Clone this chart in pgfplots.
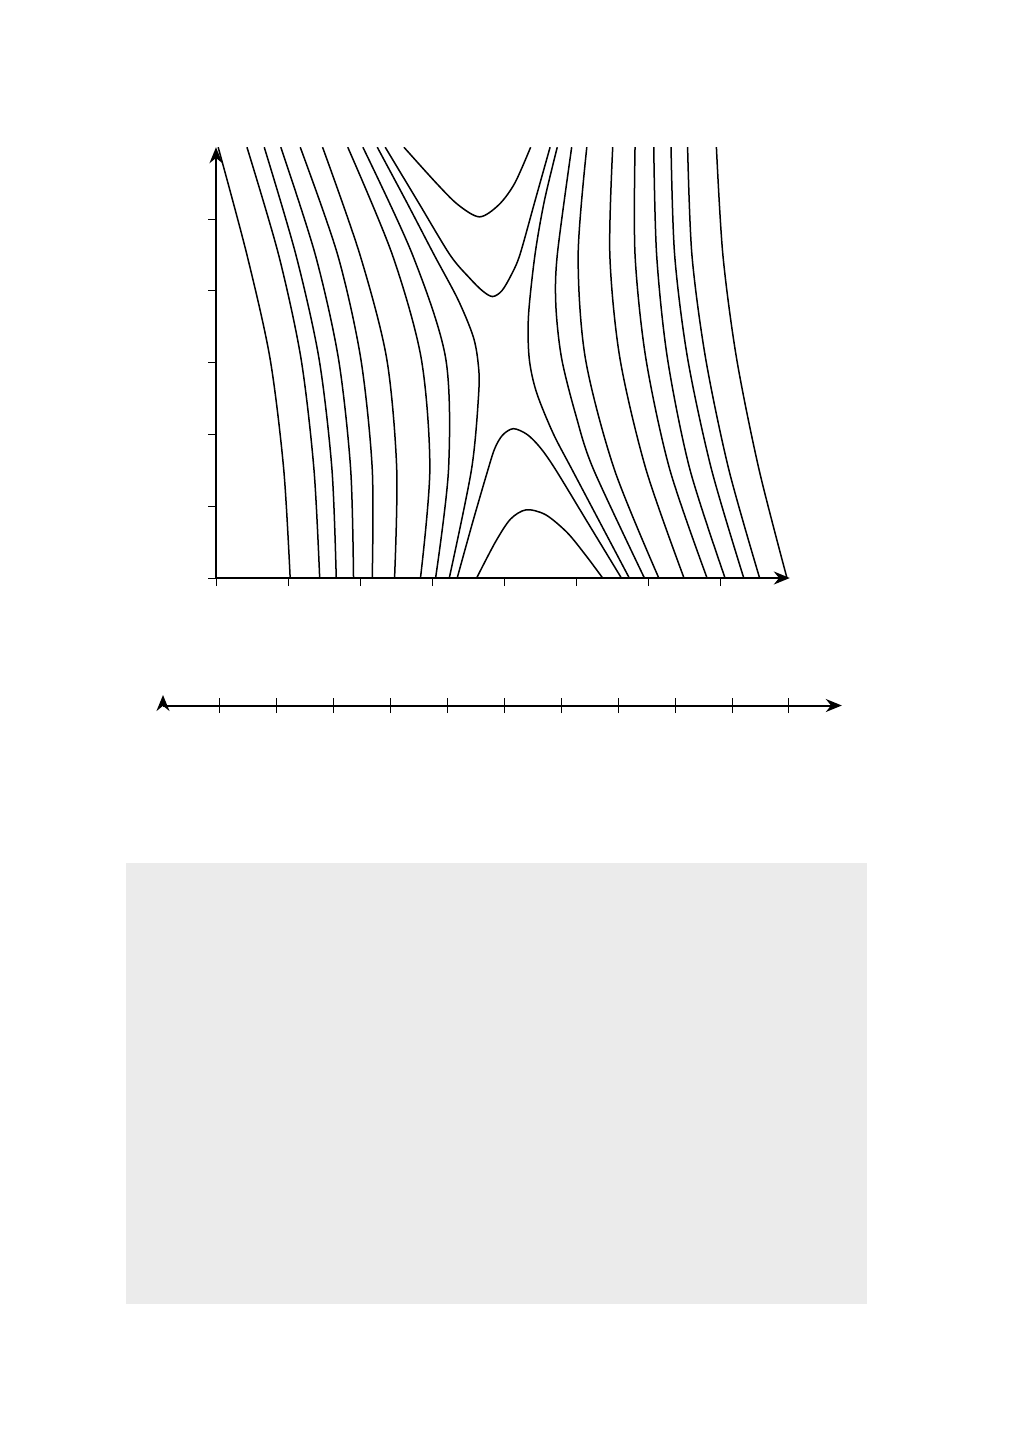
\documentclass[border=0pt]{standalone}
\usepackage{pgfplots}
\pgfplotsset{compat=1.18}
\usetikzlibrary{arrows.meta}
\definecolor{bgg}{RGB}{235,235,235}
\begin{document}
\begin{tikzpicture}[cv/.style={black, solid, line width=0.75pt, smooth, mark=none}]
\fill[white] (0,0) rectangle (504.5pt,-720.5pt);
% ---- top axis with level curves ----
\begin{axis}[
  at={(108pt,-289pt)}, anchor=origin,
  x=36pt, y=35.9pt,
  axis lines=left,
  xmin=0, xmax=7.97, ymin=0, ymax=6,
  enlargelimits=false,
  x axis line style={line width=1pt, -{Stealth[length=8pt,width=6.5pt]}},
  y axis line style={line width=1pt, -{Stealth[length=8pt,width=6.5pt]}},
  xtick={0,...,7}, ytick={0,...,5},
  xticklabel=\empty, yticklabel=\empty,
  tick align=outside, major tick length=4pt,
  tick style={line width=0.5pt, black},
]
% left branches
\addplot[cv] coordinates {(0.03,6) (0.43,4.5) (0.75,3.06) (0.94,1.52) (1.03,0)};
\addplot[cv] coordinates {(0.43,6) (0.87,4.5) (1.18,3.06) (1.36,1.52) (1.44,0)};
\addplot[cv] coordinates {(0.67,6) (1.11,4.5) (1.43,3.06) (1.61,1.52) (1.67,0)};
\addplot[cv] coordinates {(0.90,6) (1.38,4.5) (1.70,3.06) (1.87,1.52) (1.91,0)};
\addplot[cv] coordinates {(1.17,6) (1.69,4.5) (2.01,3.06) (2.17,1.52) (2.17,0)};
\addplot[cv] coordinates {(1.48,6) (2.00,4.5) (2.37,3.06) (2.51,1.52) (2.48,0)};
\addplot[cv] coordinates {(1.83,6) (2.45,4.5) (2.85,3.06) (2.97,1.52) (2.84,0)};
\addplot[cv] coordinates {(2.04,6) (2.73,4.5) (3.19,3.06) (3.23,1.52) (3.05,0)};
\addplot[cv] coordinates {(2.24,6) (2.64,5.25) (3.03,4.5) (3.36,3.88) (3.57,3.37) (3.64,3.0) (3.65,2.6) (3.55,1.52) (3.24,0)};
% upper hyperbolas
\addplot[cv] coordinates {(2.61,6) (3.06,5.5) (3.36,5.2) (3.66,5.03) (3.93,5.2) (4.15,5.5) (4.37,6)};
\addplot[cv] coordinates {(2.35,6) (2.80,5.25) (3.25,4.5) (3.52,4.18) (3.70,4.0) (3.84,3.92) (3.97,4.0) (4.10,4.22) (4.22,4.5) (4.43,5.25) (4.64,6)};
% lower hyperbolas
\addplot[cv] coordinates {(3.35,0) (3.56,0.76) (3.76,1.45) (3.87,1.80) (3.98,1.99) (4.13,2.08) (4.32,2.0) (4.50,1.82) (4.71,1.52) (5.17,0.76) (5.63,0)};
\addplot[cv] coordinates {(3.62,0) (3.88,0.5) (4.09,0.82) (4.31,0.95) (4.58,0.88) (4.88,0.63) (5.14,0.31) (5.37,0)};
% right branches
\addplot[cv] coordinates {(4.74,6) (4.56,5.25) (4.43,4.5) (4.34,3.65) (4.35,3.06) (4.45,2.59) (4.68,2.02) (4.94,1.52) (5.34,0.76) (5.74,0)};
\addplot[cv] coordinates {(4.94,6) (4.74,4.5) (4.72,3.8) (4.80,3.06) (5.0,2.26) (5.24,1.52) (5.95,0)};
\addplot[cv] coordinates {(5.15,6) (5.03,4.5) (5.13,3.06) (5.53,1.52) (6.15,0)};
\addplot[cv] coordinates {(5.51,6) (5.47,4.5) (5.61,3.06) (5.97,1.52) (6.50,0)};
\addplot[cv] coordinates {(5.82,6) (5.82,4.5) (5.97,3.06) (6.30,1.52) (6.82,0)};
\addplot[cv] coordinates {(6.08,6) (6.12,4.5) (6.27,3.06) (6.58,1.52) (7.07,0)};
\addplot[cv] coordinates {(6.32,6) (6.37,4.5) (6.55,3.06) (6.88,1.52) (7.33,0)};
\addplot[cv] coordinates {(6.55,6) (6.61,4.5) (6.80,3.06) (7.12,1.52) (7.55,0)};
\addplot[cv] coordinates {(6.95,6) (7.04,4.5) (7.23,3.06) (7.54,1.52) (7.93,0)};
\end{axis}
% ---- number line ----
\begin{axis}[
  at={(81.5pt,-352.75pt)}, anchor=origin,
  x=28.45pt, y=5.25pt,
  axis lines=left,
  xmin=0, xmax=11.93, ymin=0, ymax=1,
  enlargelimits=false,
  x axis line style={line width=1pt, -{Stealth[length=8pt,width=6.5pt]}},
  y axis line style={line width=1pt, -{Stealth[length=8pt,width=6.5pt]}},
  xtick={1,...,11}, ytick=\empty,
  xticklabel=\empty,
  tick align=center, major tick length=7.5pt,
  tick style={line width=0.5pt, black},
]
\end{axis}
% ---- grey panel ----
\begin{axis}[
  at={(63pt,-652pt)}, anchor=south west,
  scale only axis, width=370.25pt, height=220.5pt,
  xmin=0, xmax=1, ymin=0, ymax=1,
  axis line style={draw=none},
  xtick=\empty, ytick=\empty,
  axis background/.style={fill=bgg},
]
\end{axis}
\pgfresetboundingbox
\useasboundingbox (0,0) rectangle (504.5pt,-720.5pt);
\end{tikzpicture}
\end{document}
